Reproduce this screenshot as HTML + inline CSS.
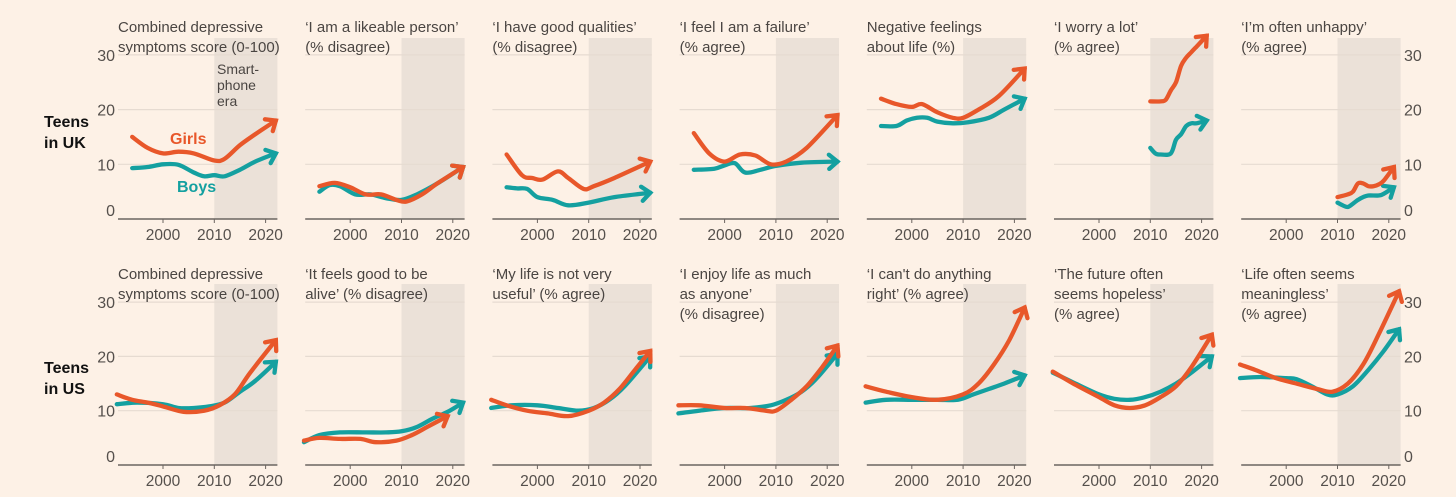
<!DOCTYPE html>
<html><head><meta charset="utf-8">
<style>
html,body{margin:0;padding:0;background:#fdf1e6;}
svg{display:block;font-family:"Liberation Sans",sans-serif;}
</style></head>
<body>
<svg id="chart" width="1456" height="497" viewBox="0 0 1456 497">
<rect width="1456" height="497" fill="#fdf1e6"/>
<text x="44" y="127" font-size="16" font-weight="bold" fill="#111">Teens</text>
<text x="44" y="148" font-size="16" font-weight="bold" fill="#111">in UK</text>
<text x="44" y="373" font-size="16" font-weight="bold" fill="#111">Teens</text>
<text x="44" y="394" font-size="16" font-weight="bold" fill="#111">in US</text>
<g id="panels"></g>
</svg>
<script>
// ---- data ----
const titlesUK = [["Combined depressive","symptoms score (0-100)"],["‘I am a likeable person’","(% disagree)"],["‘I have good qualities’","(% disagree)"],["‘I feel I am a failure’","(% agree)"],["Negative feelings","about life (%)"],["‘I worry a lot’","(% agree)"],["‘I’m often unhappy’","(% agree)"]];
const titlesUS = [["Combined depressive","symptoms score (0-100)"],["‘It feels good to be","alive’ (% disagree)"],["‘My life is not very","useful’ (% agree)"],["‘I enjoy life as much","as anyone’","(% disagree)"],["‘I can't do anything","right’ (% agree)"],["‘The future often","seems hopeless’","(% agree)"],["‘Life often seems","meaningless’","(% agree)"]];
const yTicks = [0,10,20,30];
const xTicks = [2000,2010,2020];
const ukGirls = [
 [[1994,15],[1997,13],[2000,12],[2003,12.3],[2006,12],[2010,10.7],[2012,11],[2015,13.5],[2018,15.5],[2022,18]],
 [[1994,6],[1997,6.6],[2000,5.8],[2003,4.5],[2006,4.5],[2009,3.5],[2011,3.2],[2014,4.5],[2017,6.5],[2022,9.5]],
 [[1994,11.8],[1997,8],[1999,7.5],[2001,7.2],[2004,8.7],[2006,7.5],[2009,5.5],[2011,6],[2015,7.5],[2022,10.5]],
 [[1994,15.7],[1997,12],[2000,10.5],[2003,11.8],[2006,11.6],[2009,10],[2012,10.5],[2016,13],[2022,19]],
 [[1994,22],[1997,21],[2000,20.5],[2002,21],[2005,19.5],[2008,18.5],[2010,18.5],[2013,20],[2017,22.5],[2022,27.5]],
 [[2010,21.5],[2012,21.5],[2013,21.8],[2014,23.5],[2015,25],[2016,28],[2017,29.5],[2018,30.5],[2019,31.5],[2021,33.5]],
 [[2010,4],[2012,4.5],[2013,5],[2014,6.5],[2015,6.5],[2016,6],[2017,6],[2018,6.3],[2019,7],[2021,9.5]]
];
const ukBoys = [
 [[1994,9.3],[1997,9.5],[2000,10],[2003,9.9],[2006,8.5],[2008,7.8],[2010,8],[2012,7.8],[2015,9],[2018,10.5],[2022,12]],
 [[1994,5],[1996,6.2],[1998,6],[2001,4.5],[2004,4.5],[2007,3.8],[2010,3.5],[2013,4.5],[2017,6.5],[2022,9.5]],
 [[1994,5.8],[1996,5.6],[1998,5.5],[2000,4],[2003,3.5],[2006,2.5],[2010,3],[2015,4],[2022,4.8]],
 [[1994,9],[1998,9.2],[2000,9.8],[2002,10.2],[2004,8.5],[2007,9],[2010,9.7],[2015,10.3],[2022,10.5]],
 [[1994,17],[1997,17],[1999,18],[2001,18.5],[2003,18.5],[2005,17.8],[2008,17.5],[2011,17.7],[2015,18.5],[2018,20],[2022,22]],
 [[2010,13],[2011,12],[2012,11.8],[2014,12],[2015,14.5],[2016,15.5],[2017,17],[2018,17.5],[2019,17.5],[2021,18]],
 [[2010,3],[2011,2.5],[2012,2.2],[2013,2.8],[2014,3.5],[2015,4],[2016,4.3],[2018,4.3],[2019,4.6],[2021,5.8]]
];
const usGirls = [
 [[1991,13],[1994,12],[1997,11.5],[2000,10.8],[2004,9.8],[2008,10],[2011,11],[2014,13],[2017,17],[2022,23]],
 [[1991,4.5],[1994,5],[1998,4.8],[2002,4.8],[2005,4.2],[2009,4.5],[2012,5.5],[2015,7],[2019,9]],
 [[1991,12],[1994,11],[1998,10],[2002,9.5],[2006,9],[2010,10],[2013,11.5],[2016,14],[2019,17.5],[2022,21]],
 [[1991,11],[1995,11],[2000,10.5],[2004,10.5],[2008,10],[2010,10],[2013,12],[2016,14.5],[2019,18],[2022,22]],
 [[1991,14.5],[1995,13.5],[2000,12.5],[2005,12],[2010,13],[2013,15],[2016,18.5],[2019,23],[2022,29]],
 [[1991,17.2],[1995,15],[2000,12.5],[2003,11],[2006,10.5],[2009,11],[2012,12.5],[2015,14.5],[2018,18],[2022,24]],
 [[1991,18.5],[1994,17.5],[1998,16],[2002,15],[2006,14],[2009,13.5],[2012,15],[2015,18.5],[2018,24],[2022,32]]
];
const usBoys = [
 [[1991,11.2],[1995,11.5],[2000,11.2],[2003,10.5],[2006,10.5],[2009,10.8],[2012,11.5],[2015,13.5],[2018,15.5],[2022,19]],
 [[1991,4.2],[1994,5.5],[1998,6],[2003,6],[2007,6],[2010,6.2],[2013,7],[2016,8.5],[2019,9.8],[2022,11.5]],
 [[1991,10.5],[1995,11],[2000,11],[2004,10.5],[2008,10],[2011,10.5],[2014,12],[2017,14.5],[2022,20]],
 [[1991,9.5],[1995,10],[2000,10.5],[2005,10.5],[2009,11],[2012,12],[2015,13.5],[2018,16],[2022,20.5]],
 [[1991,11.5],[1995,12],[2000,12],[2005,12],[2009,12],[2012,13],[2015,14],[2018,15],[2022,16.5]],
 [[1991,17],[1995,15.2],[2000,13],[2003,12.2],[2006,12],[2009,12.5],[2012,13.5],[2015,15],[2018,17],[2022,20]],
 [[1991,16],[1995,16.2],[2000,16],[2002,15.8],[2005,14.5],[2008,13],[2010,13],[2013,14.5],[2016,17.5],[2019,21],[2022,25]]
];
// ---- drawing ----
const NS="http://www.w3.org/2000/svg";
const G=document.getElementById('panels');
const ORANGE="#e8572a", TEAL="#14a0a0";
function mk(tag,attrs,parent){const e=document.createElementNS(NS,tag);for(const k in attrs)e.setAttribute(k,attrs[k]);(parent||G).appendChild(e);return e;}
function smoothPath(pts){
  let d="M"+pts[0][0].toFixed(1)+","+pts[0][1].toFixed(1);
  for(let i=0;i<pts.length-1;i++){
    const p0=pts[Math.max(0,i-1)],p1=pts[i],p2=pts[i+1],p3=pts[Math.min(pts.length-1,i+2)];
    const c1=[p1[0]+(p2[0]-p0[0])/6,p1[1]+(p2[1]-p0[1])/6];
    const c2=[p2[0]-(p3[0]-p1[0])/6,p2[1]-(p3[1]-p1[1])/6];
    d+=" C"+c1[0].toFixed(1)+","+c1[1].toFixed(1)+" "+c2[0].toFixed(1)+","+c2[1].toFixed(1)+" "+p2[0].toFixed(1)+","+p2[1].toFixed(1);
  }
  return d;
}
function drawPanel(row,i,title,girls,boys){
  const x2000=163+187.2*i;
  const xs=y=>x2000+(y-2000)*5.13;
  const y0=row===0?219:465, k=row===0?5.47:5.43;
  const ys=v=>y0-v*k;
  const left=x2000-45, right=xs(2022.3);
  const shadeTop=row===0?38:284;
  const g=mk('g',{});
  
  
  const sh=mk('rect',{x:xs(2010),y:shadeTop,width:right-xs(2010),height:y0-shadeTop,fill:"#ebe1d8"},g);
  
  
  yTicks.forEach(v=>{ if(v===0)return;
    const l=mk('line',{x1:left,x2:right,y1:ys(v),y2:ys(v),stroke:"#e6dbd1","stroke-width":1.2},g);
    
    
  });
  const ax=mk('line',{x1:left,x2:right,y1:y0,y2:y0,stroke:"#6b6560","stroke-width":1.6},g);
  
  
  xTicks.forEach(t=>{
    const tk=mk('line',{x1:xs(t),x2:xs(t),y1:y0,y2:y0+4,stroke:"#6b6560","stroke-width":1},g);
    
    
    const tx=mk('text',{x:xs(t),y:y0+21,"text-anchor":"middle","font-size":15.5,fill:"#55504c"},g);
    tx.textContent=t;
    
    
  });
  if(i===0||i===6){
    yTicks.forEach(v=>{
      const t=mk('text',{x:i===0?115:1404,y:v===0?y0-3:ys(v)+6,"text-anchor":i===0?"end":"start","font-size":16,fill:"#55504c"},g);
      t.textContent=v;
      
      
    });
  }
  const tb=row===0?32:279;
  title.forEach((ln,j)=>{
    const t=mk('text',{x:left,y:tb+j*20,"font-size":15,fill:"#4a4542"},g);
    t.textContent=ln;
    
    
  });
  [[boys,TEAL,'boys-line'],[girls,ORANGE,'girls-line']].forEach(([s,c,n])=>{
    const pts=s.map(p=>[xs(p[0]),ys(p[1])]);
    const p=mk('path',{d:smoothPath(pts),fill:"none",stroke:c,"stroke-width":4.3,"stroke-linejoin":"round","stroke-linecap":"round"},g);
    
    
    const a=pts[pts.length-1],b=pts[pts.length-2];
    const ang=Math.atan2(a[1]-b[1],a[0]-b[0]);
    const L=11,sp=0.7;
    const h1=[a[0]-L*Math.cos(ang-sp),a[1]-L*Math.sin(ang-sp)],h2=[a[0]-L*Math.cos(ang+sp),a[1]-L*Math.sin(ang+sp)];
    const ah=mk('polyline',{points:h1.join(",")+" "+a.join(",")+" "+h2.join(","),fill:"none",stroke:c,"stroke-width":4.3,"stroke-linejoin":"miter","stroke-linecap":"round"},g);
    
    
  });
  if(row===0&&i===0){
    ["Smart-","phone","era"].forEach((s,j)=>{
      const t=mk('text',{x:217,y:74+j*16,"font-size":14,fill:"#4a4542"},g);
      t.textContent=s;
      
      
    });
    const gl=mk('text',{x:170,y:144,"font-size":16,"font-weight":"bold",fill:ORANGE},g);
    gl.textContent="Girls";
    
    
    const bl=mk('text',{x:177,y:192,"font-size":16,"font-weight":"bold",fill:TEAL},g);
    bl.textContent="Boys";
    
    
  }
}
for(let i=0;i<7;i++){drawPanel(0,i,titlesUK[i],ukGirls[i],ukBoys[i]);drawPanel(1,i,titlesUS[i],usGirls[i],usBoys[i]);}
</script>
</body></html>
